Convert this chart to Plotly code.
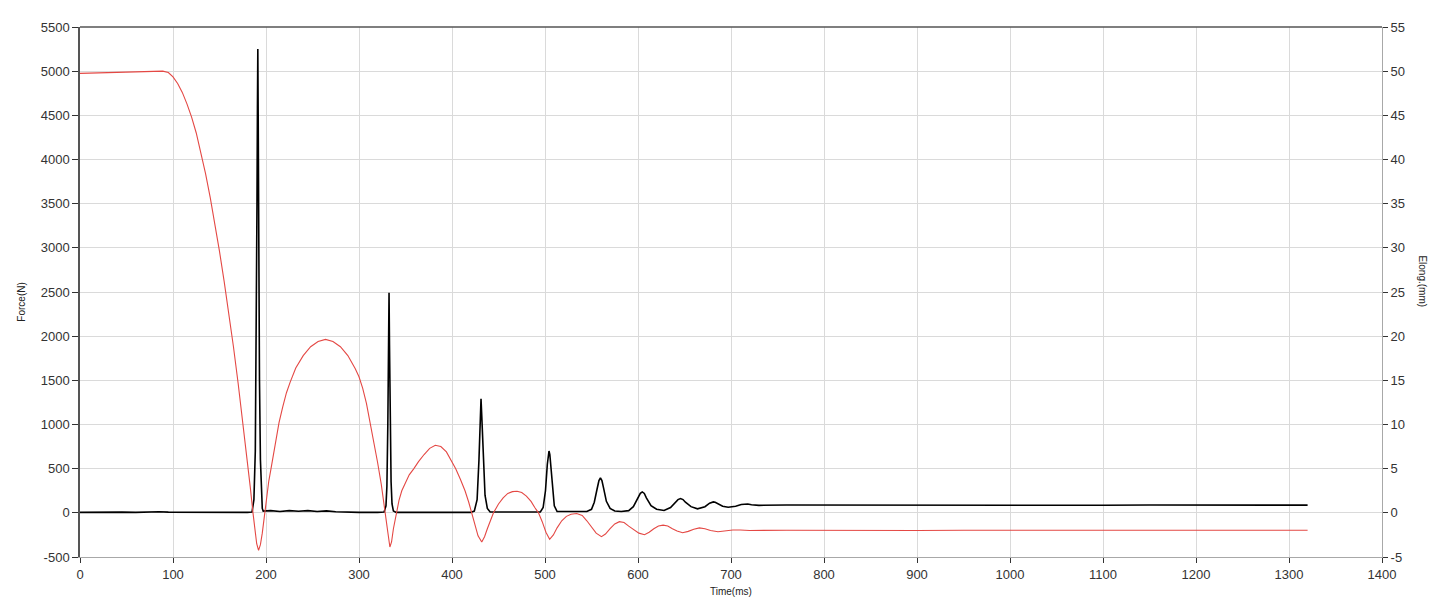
import plotly.graph_objects as go

# ---- Force (N), black, left axis ----
force_t = [0, 15, 30, 45, 60, 75, 85, 95, 110, 125, 140, 160, 180, 185, 187, 188.5, 189.5, 190.3, 190.8, 191.2, 191.6,
           192.2, 193, 194, 195, 196, 197, 205, 215, 225, 235, 245, 255, 265, 275, 285, 300, 320, 327, 329, 330,
           331, 331.8, 332.3, 332.8, 333.5, 334.5, 335.5, 337, 340, 360, 400, 420, 424, 427, 429, 430.5, 431.2,
           432, 433.5, 435.5, 438, 441, 470, 495, 498, 500.5, 502.5, 503.5, 504.3, 505.2, 506, 508, 510, 513,
           530, 545, 550, 553, 556, 558, 559.6, 561.2, 563, 566, 570, 575, 582, 590, 595, 600, 602.5, 604.6,
           606.8, 609, 614, 620, 628, 635, 640, 643, 645.7, 648.4, 651, 657, 664, 672, 677, 679, 681, 683, 686,
           691, 697, 705, 711, 714, 716, 718, 722, 730, 760, 800, 850, 900, 950, 1000, 1050, 1100, 1150, 1200,
           1250, 1300, 1320]
force_v = [5, 8, 4, 8, 5, 10, 12, 8, 6, 5, 5, 5, 5, 10, 150, 700, 1800, 3500, 4580, 5250, 4500,
           3000, 1500, 600, 200, 50, 20, 25, 15, 25, 18, 25, 15, 22, 12, 8, 5, 5, 10, 80, 300,
           1000, 1800, 2490, 1900, 1000, 350, 100, 20, 5, 5, 5, 5, 20, 150, 600, 1100, 1290,
           1100, 600, 200, 50, 10, 10, 10, 60, 250, 550, 660, 700, 660, 550, 250, 80, 15,
           12, 15, 40, 120, 270, 365, 395, 365, 280, 130, 50, 20, 15, 25, 70, 170, 220, 237,
           220, 170, 80, 40, 27, 60, 120, 150, 162, 150, 120, 70, 45, 70, 110, 120, 124, 120, 105,
           75, 64, 75, 95, 100, 102, 100, 92, 85, 88, 87, 89, 86, 88, 87, 89, 86, 88, 87,
           88, 86, 87]

# ---- Elongation (mm), red, right axis ----
elong_t = [0, 20, 40, 60, 80, 89, 95, 100, 105, 110, 115, 120, 125, 130, 135, 140, 145, 150, 155, 160, 165, 170,
           175, 180, 183, 186, 188, 190, 192, 194, 196, 198.5, 201, 203, 205.4, 208, 211, 214, 218, 222, 226,
           232, 240, 248, 256, 264, 272, 280, 288, 292, 296, 300, 304, 308, 312, 316, 320, 324, 328.6, 331, 333.2,
           335, 337, 340, 343, 346, 350, 354, 359, 364, 370, 376, 382, 388, 394, 399, 404, 409, 414, 418, 421.4,
           425, 428, 432, 435, 438, 441, 444.6, 450, 455, 460, 465, 470, 475, 480, 485, 489, 493, 497, 501, 505,
           509, 513, 518, 523, 528, 534, 540, 545, 550, 555, 560.7, 565, 570, 575, 580, 585, 590, 595, 601, 607,
           612, 617, 622, 627, 632, 637, 642, 648, 654, 660, 666, 672, 678, 686, 694, 702, 710, 720, 760, 800,
           850, 900, 950, 1000, 1050, 1100, 1150, 1200, 1250, 1300, 1320]
elong_v = [49.75, 49.8, 49.85, 49.9, 50.0, 50.0, 49.85, 49.35, 48.6, 47.6, 46.3, 44.8, 43.0, 40.8, 38.4, 35.7,
           32.8, 29.6, 26.2, 22.6, 18.8, 14.7, 10.4, 5.9, 3.0, 0.0, -2.0, -3.5, -4.25, -3.6, -2.3, 0.0, 2.1, 3.6,
           5.0, 6.7, 8.5, 10.2, 12.0, 13.6, 14.8, 16.4, 17.8, 18.8, 19.4, 19.64, 19.4, 18.8, 17.8, 17.1, 16.3,
           15.4, 14.1, 12.4, 10.3, 8.0, 5.7, 3.2, 0.0, -2.2, -3.87, -3.3, -1.8, 0.0, 1.4, 2.5, 3.5, 4.3, 5.0,
           5.8, 6.6, 7.3, 7.65, 7.5, 6.9, 6.0, 5.0, 3.8, 2.5, 1.2, 0.0, -1.5, -2.6, -3.31, -2.7, -1.8, -0.9, 0.0,
           1.0, 1.7, 2.2, 2.4, 2.45, 2.3, 1.9, 1.3, 0.6, 0.0, -1.0, -2.2, -3.0, -2.5, -1.7, -0.9, -0.4, -0.15,
           -0.07, -0.3, -0.9, -1.6, -2.3, -2.7, -2.4, -1.8, -1.25, -1.0, -1.1, -1.5, -1.9, -2.3, -2.48, -2.2,
           -1.8, -1.5, -1.39, -1.5, -1.8, -2.05, -2.25, -2.1, -1.85, -1.7, -1.8, -2.0, -2.14, -2.05, -1.95,
           -1.95, -2.0, -1.97, -1.99, -1.96, -2.0, -1.97, -1.98, -1.96, -2.0, -1.97, -1.99, -1.96, -1.98, -1.98]

x_ticks = list(range(0, 1401, 100))
force_ticks = list(range(-500, 5501, 500))
elong_ticks = list(range(-5, 56, 5))

fig = go.Figure()
fig.add_trace(go.Scatter(x=force_t, y=force_v, mode="lines", name="Force",
                         line=dict(color="#000000", width=1.6), yaxis="y"))
fig.add_trace(go.Scatter(x=elong_t, y=elong_v, mode="lines", name="Elong.",
                         line=dict(color="#e44844", width=1.1), yaxis="y2"))

tickfont = dict(family="Liberation Sans, Arial, sans-serif", size=13, color="#333333")
grid = "#dadada"

fig.update_layout(
    width=1437, height=600,
    margin=dict(l=72, r=63, t=15, b=51),
    paper_bgcolor="white", plot_bgcolor="white",
    showlegend=False,
    xaxis=dict(range=[0, 1400], tickvals=x_ticks, ticktext=[str(v) for v in x_ticks],
               showgrid=True, gridcolor=grid, gridwidth=1, zeroline=False,
               showline=True, linecolor="#a8a8a8", linewidth=1,
               ticks="outside", ticklen=5, tickcolor="#333333", tickfont=tickfont),
    yaxis=dict(range=[-500, 5500], tickvals=force_ticks, ticktext=[str(v) for v in force_ticks],
               showgrid=True, gridcolor=grid, gridwidth=1, zeroline=False,
               showline=True, linecolor="#555555", linewidth=1.5,
               ticks="outside", ticklen=6, tickcolor="#333333", tickfont=tickfont),
    yaxis2=dict(range=[-5, 55], tickvals=elong_ticks, ticktext=[str(v) for v in elong_ticks],
                overlaying="y", side="right", showgrid=False, zeroline=False,
                showline=True, linecolor="#a8a8a8", linewidth=1,
                ticks="outside", ticklen=5, tickcolor="#333333", tickfont=tickfont),
    shapes=[dict(type="line", xref="paper", yref="paper", x0=0, x1=1, y0=1, y1=1,
                 line=dict(color="#555555", width=1.5))],
    annotations=[
        dict(text="Force(N)", xref="paper", yref="paper", x=-0.0445, y=0.48, showarrow=False,
             textangle=-90, font=dict(family="Liberation Sans, Arial, sans-serif", size=10, color="#222222"),
             xanchor="center", yanchor="middle"),
        dict(text="Elong.(mm)", xref="paper", yref="paper", x=1.0315, y=0.52, showarrow=False,
             textangle=90, font=dict(family="Liberation Sans, Arial, sans-serif", size=10, color="#222222"),
             xanchor="center", yanchor="middle"),
        dict(text="Time(ms)", xref="paper", yref="paper", x=0.5, y=-0.0655, showarrow=False,
             font=dict(family="Liberation Sans, Arial, sans-serif", size=10, color="#222222"),
             xanchor="center", yanchor="middle"),
    ],
)

fig.write_html("out.html")
